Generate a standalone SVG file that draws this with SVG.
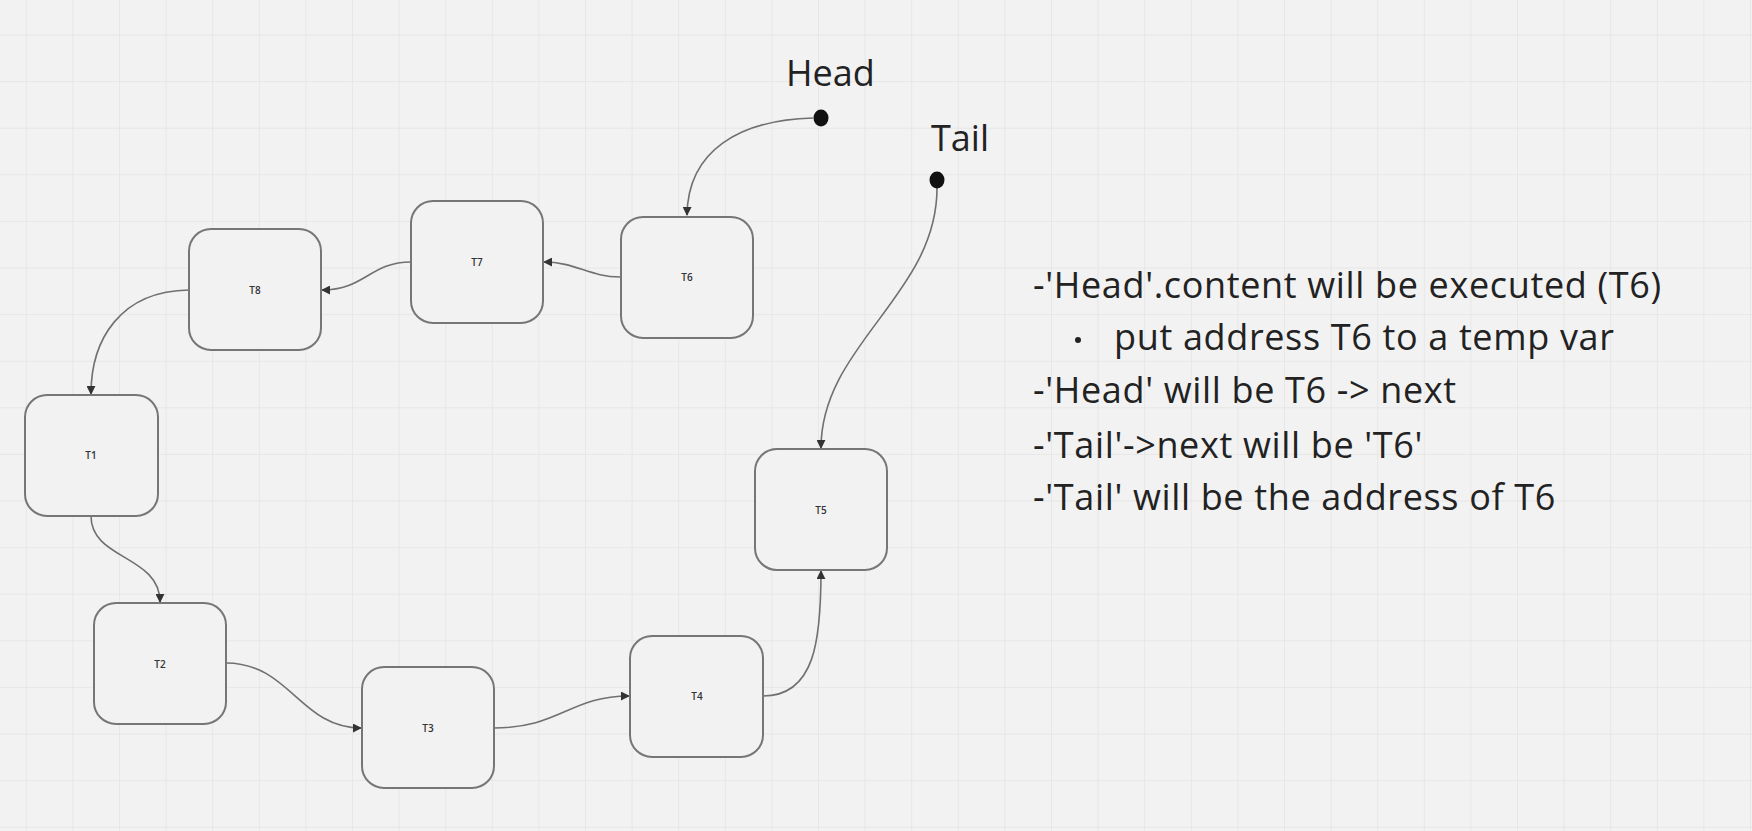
<svg xmlns="http://www.w3.org/2000/svg" width="1752" height="831" viewBox="0 0 1752 831">
<defs>
<pattern id="grid" x="25.8" y="34.5" width="46.6" height="46.6" patternUnits="userSpaceOnUse">
<path d="M0 0 H46.6 M0 0 V46.6" fill="none" stroke="#e4e4e4" stroke-width="1.6"/>
</pattern>
<marker id="arr" viewBox="0 0 10 10" refX="9" refY="5" markerWidth="9" markerHeight="9" markerUnits="userSpaceOnUse" orient="auto">
<path d="M0 0 L10 5 L0 10 Z" fill="#333"/>
</marker>
</defs>
<style>
.node rect{fill:#f2f2f2;stroke:#767676;stroke-width:2}
.node text{font-family:"Open Sans","Noto Sans",sans-serif;font-size:10px;font-weight:600;fill:#333;text-anchor:middle;dominant-baseline:central}
.conn path{fill:none;stroke:#707070;stroke-width:1.6;marker-end:url(#arr)}
.lbl{font-family:"Open Sans","Noto Sans",sans-serif;font-size:36px;fill:#222}
.note{font-family:"Open Sans","Noto Sans",sans-serif;font-size:36px;letter-spacing:0.65px;fill:#222}
</style>
<rect width="1752" height="831" fill="#f2f2f2"/>
<rect width="1752" height="831" fill="url(#grid)"/>

<g id="connectors" class="conn">
<path d="M813 118 C740 120 688 150 687 215"/>
<path d="M620 277 C590 277 575 262 544 262"/>
<path d="M411 262 C370 262 365 290 322 290"/>
<path d="M189 290 C120 291 91 340 91 394"/>
<path d="M91 516 C91 560 160 555 160 602"/>
<path d="M226 663 C290 663 300 728 361 728"/>
<path d="M494 728 C560 728 570 696 629 696"/>
<path d="M763 696 C815 696 821 640 821 571"/>
<path d="M937 188 C937 295 821 345 821 448"/>
</g>

<g id="head">
<text class="lbl" x="786" y="86">Head</text>
<ellipse cx="821" cy="118" rx="7.5" ry="8.5" fill="#111"/>
</g>
<g id="tail">
<text class="lbl" x="931" y="151">Tail</text>
<ellipse cx="937" cy="180" rx="7.5" ry="8.5" fill="#111"/>
</g>

<g id="T6" class="node"><rect x="621" y="217" width="132" height="121" rx="22"/><text x="687" y="277">T6</text></g>
<g id="T7" class="node"><rect x="411" y="201" width="132" height="122" rx="22"/><text x="477" y="262">T7</text></g>
<g id="T8" class="node"><rect x="189" y="229" width="132" height="121" rx="22"/><text x="255" y="290">T8</text></g>
<g id="T1" class="node"><rect x="25" y="395" width="133" height="121" rx="22"/><text x="91" y="455">T1</text></g>
<g id="T2" class="node"><rect x="94" y="603" width="132" height="121" rx="22"/><text x="160" y="664">T2</text></g>
<g id="T3" class="node"><rect x="362" y="667" width="132" height="121" rx="22"/><text x="428" y="728">T3</text></g>
<g id="T4" class="node"><rect x="630" y="636" width="133" height="121" rx="22"/><text x="697" y="696">T4</text></g>
<g id="T5" class="node"><rect x="755" y="449" width="132" height="121" rx="22"/><text x="821" y="510">T5</text></g>

<g id="notes">
<text class="note" x="1033" y="298">-'Head'.content will be executed (T6)</text>
<circle cx="1078" cy="340" r="3" fill="#222"/>
<text class="note" x="1114" y="350">put address T6 to a temp var</text>
<text class="note" x="1033" y="403">-'Head' will be T6 -&gt; next</text>
<text class="note" x="1033" y="458">-'Tail'-&gt;next will be 'T6'</text>
<text class="note" x="1033" y="510">-'Tail' will be the address of T6</text>
</g>
</svg>
